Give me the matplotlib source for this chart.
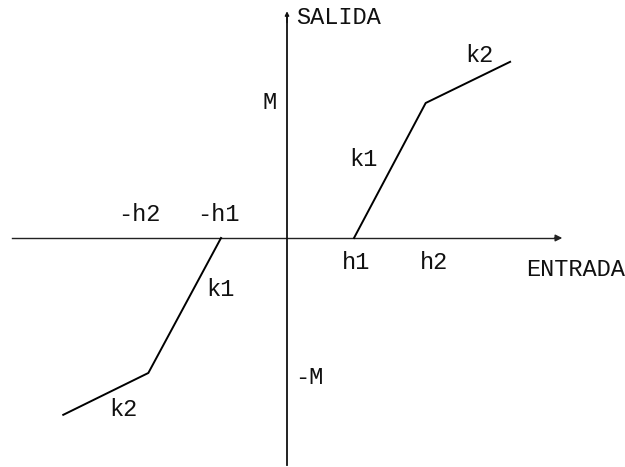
import matplotlib
matplotlib.use('Agg')
import matplotlib.pyplot as plt

# zona muerta con dos pendientes (k1, k2)
h1 = 1.0
h2 = 2.07
M = 2.0
x_fin = 3.33
y_fin = 2.61

x_der = [h1, h2, x_fin]
y_der = [0, M, y_fin]
x_izq = [-0.985, -h2, -3.34]
y_izq = [0, -M, -2.62]

fig = plt.figure(figsize=(6.25, 4.67), dpi=100)
ax = fig.add_axes([0, 0, 1, 1])
ax.set_xlim(-4.284, 5.045)
ax.set_ylim(-3.393, 3.526)
ax.axis('off')

fuente = dict(family='Liberation Mono', fontsize=17, color='#111111')

# ejes
ax.plot([-4.10, 4.0], [0, 0], color='#222222', lw=1.0)
ax.annotate('', xy=(4.15, 0), xytext=(3.95, 0),
            arrowprops=dict(arrowstyle='-|>', color='#222222', lw=1.0,
                            mutation_scale=10))
ax.plot([0, 0], [-3.36, 3.30], color='#111111', lw=1.3)
ax.annotate('', xy=(0, 3.40), xytext=(0, 3.15),
            arrowprops=dict(arrowstyle='-|>', color='#111111', lw=1.0,
                            mutation_scale=6))

# curva
ax.plot(x_der, y_der, color='black', lw=1.4)
ax.plot(x_izq, y_izq, color='black', lw=1.4)

# textos
ax.text(0.134, 3.26, 'SALIDA', ha='left', va='center', **fuente)
ax.text(3.567, -0.474, 'ENTRADA', ha='left', va='center', **fuente)
ax.text(-0.254, 2.0, 'M', ha='center', va='center', **fuente)
ax.text(0.119, -2.06, '-M', ha='left', va='center', **fuente)
ax.text(1.134, 1.156, 'k1', ha='center', va='center', **fuente)
ax.text(2.866, 2.711, 'k2', ha='center', va='center', **fuente)
ax.text(-1.0, -0.770, 'k1', ha='center', va='center', **fuente)
ax.text(-2.448, -2.548, 'k2', ha='center', va='center', **fuente)
ax.text(-2.209, 0.341, '-h2', ha='center', va='center', **fuente)
ax.text(-1.03, 0.341, '-h1', ha='center', va='center', **fuente)
ax.text(1.03, -0.370, 'h1', ha='center', va='center', **fuente)
ax.text(2.194, -0.370, 'h2', ha='center', va='center', **fuente)

fig.savefig('out.png', dpi=100)
